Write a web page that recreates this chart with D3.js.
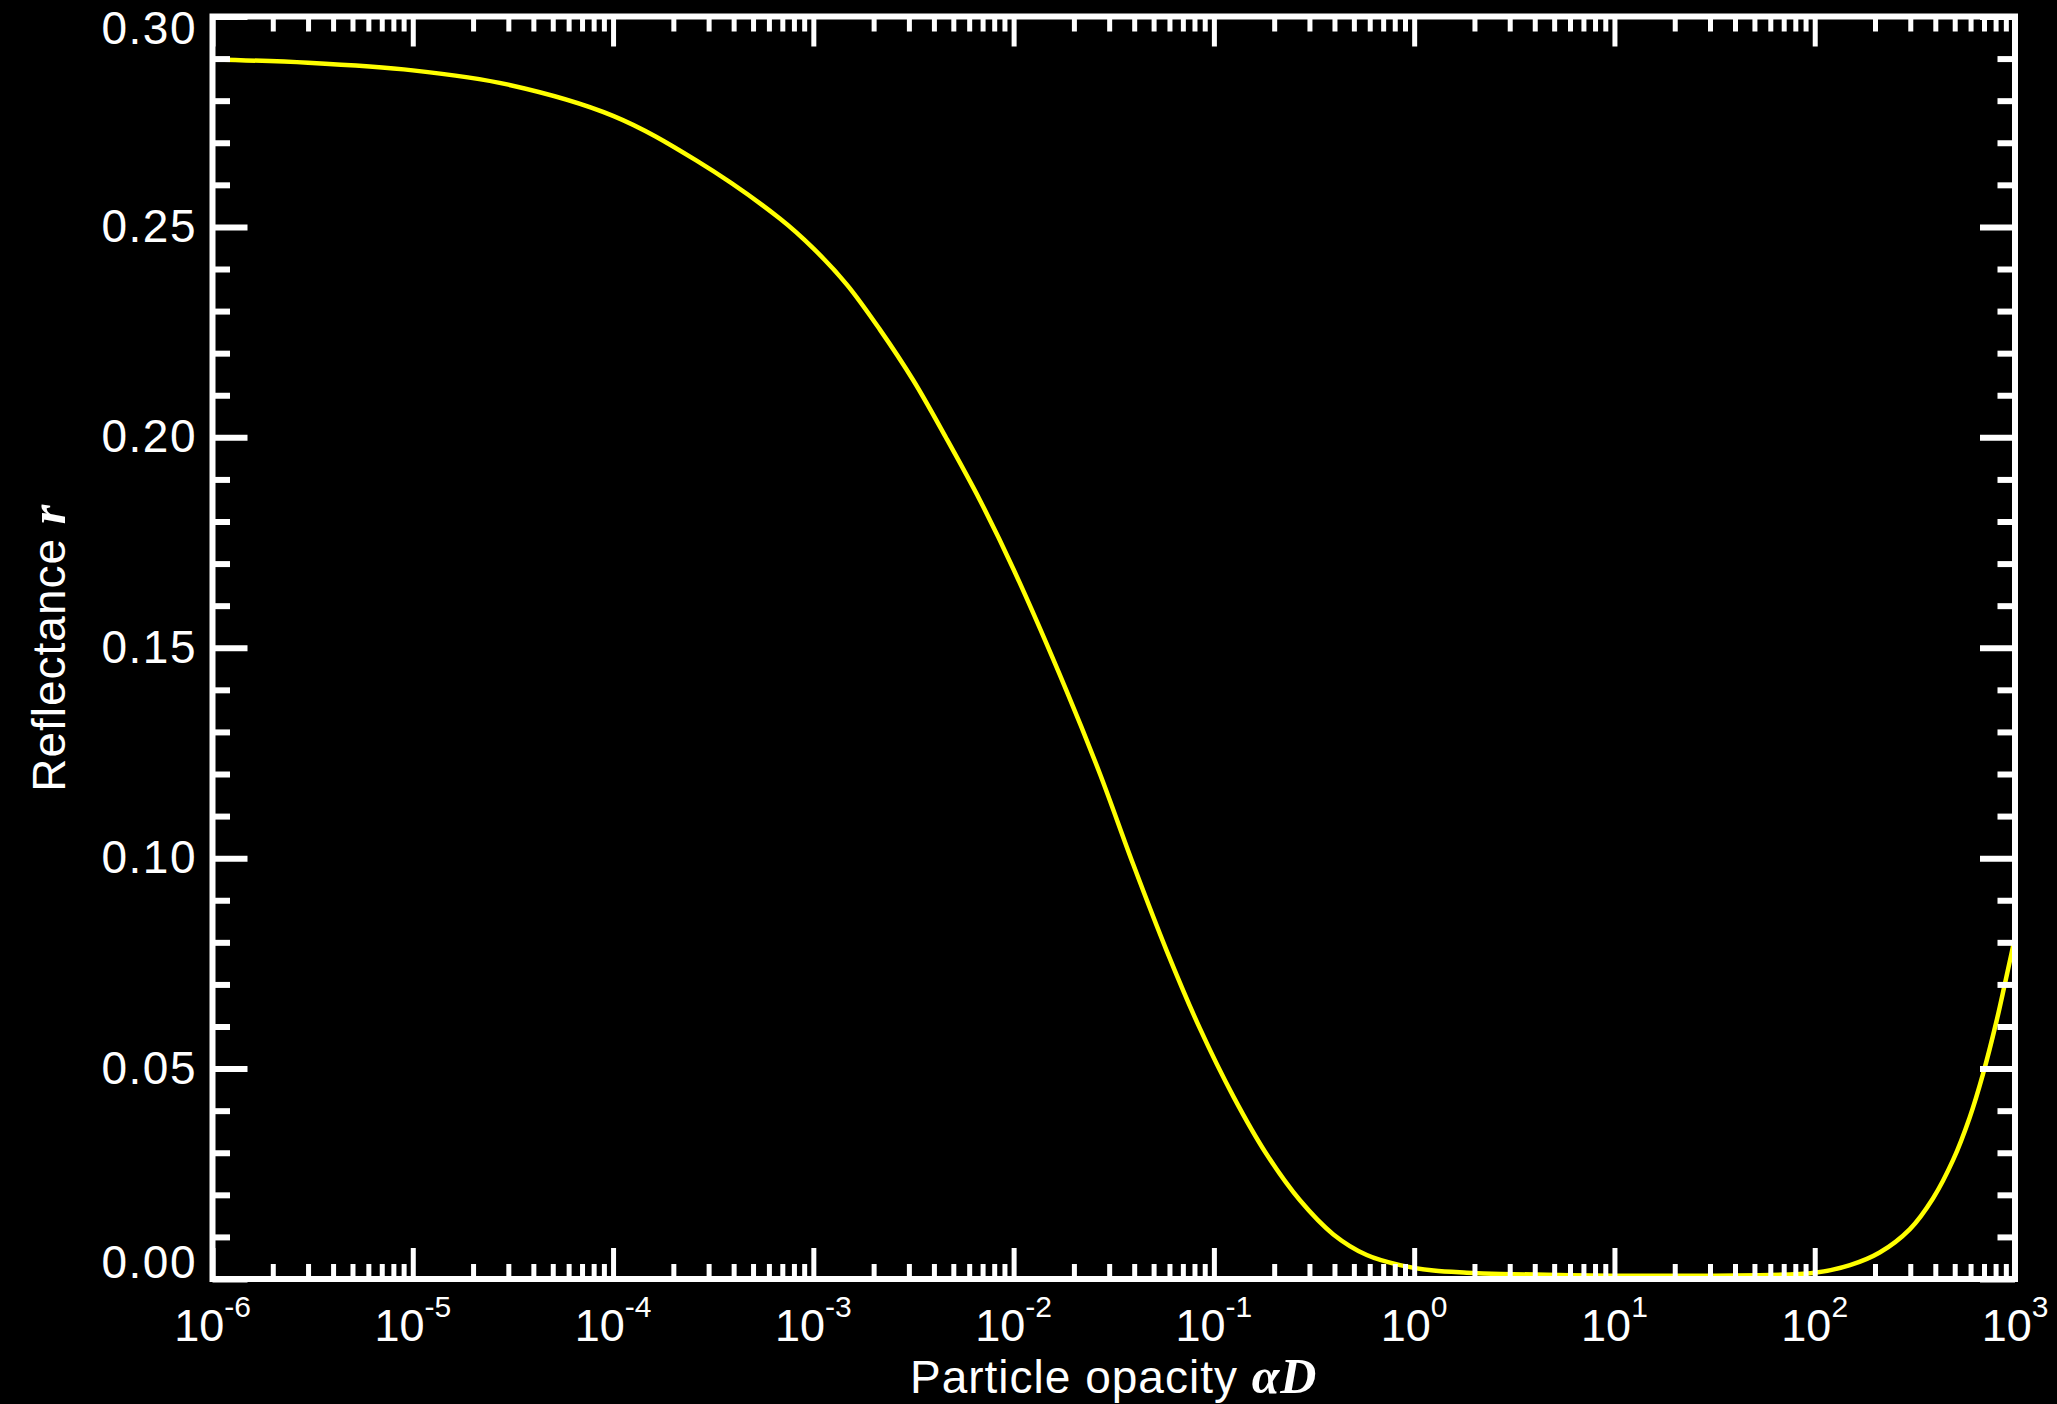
<!DOCTYPE html>
<html>
<head>
<meta charset="utf-8">
<script src="https://cdn.jsdelivr.net/npm/d3@7"></script>
<style>
  body { margin: 0; background: #000; }
  svg { display: block; background: #000; }
  text { fill: #fff; font-family: "Liberation Sans", Arial, Helvetica, sans-serif; }
</style>
</head>
<body>
<div class="chart"></div>
<script>
(function() {
	var width = 2057,
		height = 1404;

	// reflectance, against particle opacity
	var opacity = [1e-6, 3e-6, 1e-5, 3e-5, 1e-4, 2.6e-4, 6.8e-4, 1e-3, 1.47e-3, 2.15e-3,
		3.16e-3, 4.6e-3, 6.8e-3, 1e-2, 1.84e-2, 2.7e-2, 3.95e-2, 5.8e-2, 8.5e-2, 0.125,
		0.183, 0.269, 0.395, 0.58, 0.85, 1.25, 1.83, 2.7, 10, 30,
		100, 150, 211, 298, 390, 491, 594, 692, 807, 887, 959, 1000];
	var reflectance = [0.2898, 0.2890, 0.2872, 0.2838, 0.2764, 0.2658, 0.2520, 0.2449, 0.2363, 0.2256,
		0.2135, 0.1999, 0.1850, 0.1686, 0.1397, 0.1200, 0.0986, 0.0781, 0.0596, 0.0434,
		0.0297, 0.0187, 0.0106, 0.0057, 0.0033, 0.0020, 0.0015, 0.0012, 0.0008, 0.0008,
		0.0015, 0.0033, 0.0063, 0.0118, 0.0192, 0.0283, 0.0384, 0.0487, 0.0611, 0.0698, 0.0772, 0.0812];

	var xMajor = [1e-6, 1e-5, 1e-4, 1e-3, 1e-2, 1e-1, 1e0, 1e1, 1e2, 1e3],
		xExponents = ["-6", "-5", "-4", "-3", "-2", "-1", "0", "1", "2", "3"];
	var yMajor = [0, 0.05, 0.10, 0.15, 0.20, 0.25, 0.30],
		yLabels = ["0.00", "0.05", "0.10", "0.15", "0.20", "0.25", "0.30"];

	var left = 212.5, right = 2015, top = 16.5, bottom = 1279;

	var x = d3.scaleLog().domain([1e-6, 1e3]).range([left, right]);
	var y = d3.scaleLinear().domain([0, 0.30]).range([bottom, top]);

	var xMinor = x.ticks().filter(function(v) { return xMajor.indexOf(v) < 0; });
	var yMinor = d3.range(0, 31).map(function(i) { return i / 100; })
		.filter(function(v) { return Math.round(v * 100) % 5 !== 0; });

	var svg = d3.select(".chart").append("svg")
		.attr("width", width)
		.attr("height", height);

	svg.append("clipPath").attr("id", "plot")
		.append("rect")
		.attr("x", left).attr("y", top)
		.attr("width", right - left).attr("height", bottom - top);

	var points = opacity.map(function(v, i) { return [v, reflectance[i]]; });
	var line = d3.line()
		.x(function(d) { return x(d[0]); })
		.y(function(d) { return y(d[1]); })
		.curve(d3.curveCatmullRom.alpha(0.5));

	svg.append("path")
		.datum(points)
		.attr("clip-path", "url(#plot)")
		.attr("d", line)
		.style("fill", "none")
		.style("stroke", "#ffff00")
		.style("stroke-width", 4.5);

	// tick marks, all pointing inward
	function ticks(axis, pos, values, size, w) {
		var g = svg.append("g")
			.attr("transform", pos)
			.call(axis.tickValues(values).tickSize(-size).tickFormat(""));
		g.select(".domain").remove();
		g.selectAll(".tick line").style("stroke", "#fff").style("stroke-width", w);
	}
	ticks(d3.axisBottom(x), "translate(0," + bottom + ")", xMajor, 31, 5);
	ticks(d3.axisBottom(x), "translate(0," + bottom + ")", xMinor, 15, 5);
	ticks(d3.axisTop(x), "translate(0," + top + ")", xMajor, 30, 5);
	ticks(d3.axisTop(x), "translate(0," + top + ")", xMinor, 15, 5);
	ticks(d3.axisLeft(y), "translate(" + left + ",0)", yMajor, 35, 6);
	ticks(d3.axisLeft(y), "translate(" + left + ",0)", yMinor, 17.5, 6);
	ticks(d3.axisRight(y), "translate(" + right + ",0)", yMajor, 35, 6);
	ticks(d3.axisRight(y), "translate(" + right + ",0)", yMinor, 17.5, 6);

	svg.append("rect")
		.attr("x", left).attr("y", top)
		.attr("width", right - left).attr("height", bottom - top)
		.style("fill", "none")
		.style("stroke", "#fff")
		.style("stroke-width", 6);

	// y tick labels
	svg.selectAll(".ylab")
		.data(yMajor)
		.enter().append("text")
		.attr("class", "ylab")
		.attr("x", 197)
		.attr("y", function(d) { return y(d); })
		.attr("dy", function(d, i) { return i === 0 ? -1 : (i === yMajor.length - 1 ? 27 : 15); })
		.attr("text-anchor", "end")
		.style("font-size", "46px")
		.style("letter-spacing", "1.5px")
		.text(function(d, i) { return yLabels[i]; });

	// x tick labels, 10 to the power
	var xl = svg.selectAll(".xlab")
		.data(xMajor)
		.enter().append("text")
		.attr("class", "xlab")
		.attr("x", function(d) { return x(d); })
		.attr("y", 1341)
		.attr("text-anchor", "middle")
		.style("font-size", "45px");
	xl.append("tspan").text("10");
	xl.append("tspan")
		.attr("dy", -24)
		.style("font-size", "30px")
		.text(function(d, i) { return xExponents[i]; });

	var xt = svg.append("text")
		.attr("x", (left + right) / 2)
		.attr("y", 1393)
		.attr("text-anchor", "middle")
		.style("font-size", "46px")
		.style("letter-spacing", "1px");
	xt.append("tspan").text("Particle opacity ");
	xt.append("tspan")
		.style("font-family", "'Liberation Serif', 'Times New Roman', serif")
		.style("font-style", "italic")
		.style("font-weight", "bold")
		.style("font-size", "50px")
		.text("αD");

	var yt = svg.append("text")
		.attr("transform", "translate(65," + (top + bottom) / 2 + ") rotate(-90)")
		.attr("text-anchor", "middle")
		.style("font-size", "46px")
		.style("letter-spacing", "1px");
	yt.append("tspan").text("Reflectance ");
	yt.append("tspan")
		.style("font-family", "'Liberation Serif', 'Times New Roman', serif")
		.style("font-style", "italic")
		.style("font-weight", "bold")
		.style("font-size", "50px")
		.text("r");
})();
</script>
</body>
</html>
